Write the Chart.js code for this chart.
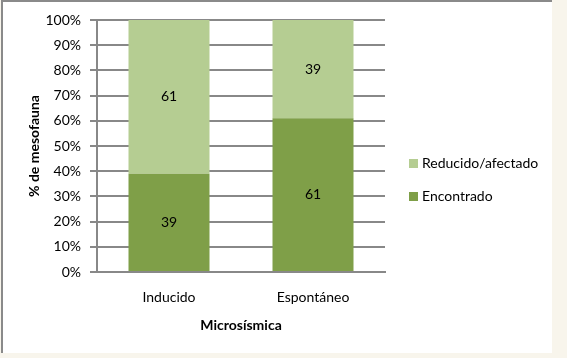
<!DOCTYPE html>
<html>
<head>
<meta charset="utf-8">
<script src="https://cdn.jsdelivr.net/npm/chart.js@4.4.0/dist/chart.umd.min.js"></script>
<style>
  html, body { margin:0; padding:0; width:567px; height:358px; overflow:hidden; background:#f8f5ec; }
  #frame { position:absolute; left:1px; top:0; width:551px; height:353px; background:#fff; border-left:2px solid #8a8a8a; border-top:2px solid #8a8a8a; box-sizing:border-box; }
  #wrap { position:absolute; left:0; top:0; width:567px; height:358px; }
  #legend { position:absolute; left:409px; top:154px; font-family: Lato, "Open Sans", sans-serif; font-size:14px; color:#000; }
  .item { position:relative; height:18px; line-height:18px; white-space:nowrap; }
  .item span.box { display:inline-block; width:9px; height:9px; margin-right:4px; vertical-align:middle; position:relative; top:-1px; }
</style>
</head>
<body>
<div id="frame"></div>
<div id="wrap"><canvas id="c" width="567" height="358"></canvas></div>
<div id="legend"></div>
<script>
const categories = ["Inducido", "Espontáneo"];
const encontrado = [39, 61];
const reducido = [61, 39];
const seriesNames = ["Encontrado", "Reducido/afectado"];
const yTicks = [0, 10, 20, 30, 40, 50, 60, 70, 80, 90, 100];
const colors = { dark: "#7f9f48", light: "#b5cd92" };

const FONT = "Lato, 'Open Sans', sans-serif";
const GRID = "#888888";

const dataLabels = {
  id: "dataLabels",
  afterDatasetsDraw(chart) {
    const ctx = chart.ctx;
    ctx.save();
    ctx.font = "14px " + FONT;
    ctx.fillStyle = "#000";
    ctx.textAlign = "center";
    ctx.textBaseline = "middle";
    chart.data.datasets.forEach((ds, di) => {
      chart.getDatasetMeta(di).data.forEach((bar, i) => {
        const p = bar.getProps(["x", "y", "base"], true);
        ctx.fillText(String(ds.data[i]), p.x, (p.y + p.base) / 2);
      });
    });
    ctx.restore();
  }
};

const chart = new Chart(document.getElementById("c"), {
  type: "bar",
  data: {
    labels: categories,
    datasets: [
      { label: seriesNames[0], data: encontrado, backgroundColor: colors.dark, categoryPercentage: 0.5625, barPercentage: 1 },
      { label: seriesNames[1], data: reducido, backgroundColor: colors.light, categoryPercentage: 0.5625, barPercentage: 1 }
    ]
  },
  options: {
    responsive: false,
    animation: false,
    layout: { padding: { left: 0, top: 20, right: 182, bottom: 0 } },
    plugins: { legend: { display: false }, tooltip: { enabled: false } },
    scales: {
      x: {
        stacked: true,
        grid: { display: false, drawTicks: false },
        border: { display: true, color: GRID, width: 2 },
        ticks: { color: "#000", font: { family: FONT, size: 14 }, padding: 17 },
        title: { display: true, text: "Microsísmica", color: "#000", font: { family: FONT, size: 14, weight: "bold" }, padding: { top: 0, bottom: 24 } },
        afterFit(s) { s.height = 86; }
      },
      y: {
        stacked: true,
        min: 0, max: 100,
        afterBuildTicks(s) { s.ticks = yTicks.map(v => ({ value: v })); },
        grid: { color: GRID, lineWidth: 2, tickLength: 7, drawTicks: true },
        border: { display: true, color: GRID, width: 2 },
        ticks: { color: "#000", font: { family: FONT, size: 14 }, padding: 9, callback: v => v + "%" },
        title: { display: true, text: "% de mesofauna", color: "#000", font: { family: FONT, size: 14, weight: "bold" }, padding: { top: 26, bottom: 0 } },
        afterFit(s) { s.width = 97; }
      }
    }
  },
  plugins: [dataLabels]
});

const legend = document.getElementById("legend");
[[seriesNames[1], colors.light], [seriesNames[0], colors.dark]].forEach(([name, col], i) => {
  const d = document.createElement("div");
  d.className = "item";
  if (i === 1) d.style.marginTop = "15px";
  d.innerHTML = '<span class="box" style="background:' + col + '"></span>' + name;
  legend.appendChild(d);
});
</script>
</body>
</html>
